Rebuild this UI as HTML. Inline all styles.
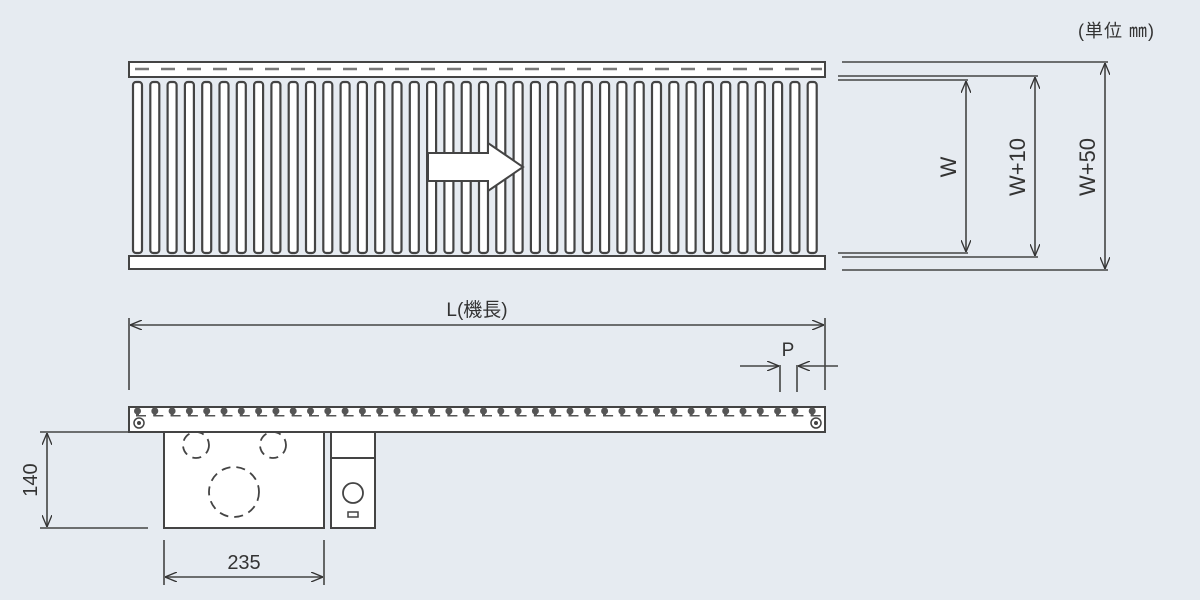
<!DOCTYPE html>
<html><head><style>body{margin:0;background:#e6ebf1}svg{display:block}</style></head><body>
<svg width="1200" height="600" viewBox="0 0 1200 600" xmlns="http://www.w3.org/2000/svg" font-family="Liberation Sans, Noto Sans CJK JP, sans-serif">
<defs>
<marker id="a" viewBox="0 0 12 10" refX="12" refY="5" markerWidth="12" markerHeight="10" orient="auto-start-reverse" markerUnits="userSpaceOnUse"><path d="M0,0 L12,5 L0,10" fill="none" stroke="#333" stroke-width="1.3"/></marker>
</defs>
<rect width="1200" height="600" fill="#e6ebf1"/>
<text x="1078" y="37" font-size="18" fill="#333" letter-spacing="1">(単位 ㎜)</text>
<rect x="129" y="62" width="696" height="15" fill="#fff" stroke="#444" stroke-width="2"/>
<line x1="135" y1="69" x2="822" y2="69" stroke="#777" stroke-width="2.5" stroke-dasharray="14,12"/>
<rect x="129" y="256" width="696" height="13" fill="#fff" stroke="#444" stroke-width="2"/>
<g id="rollers" fill="#fff" stroke="#444" stroke-width="2.2"></g>
<path d="M428,153 L488,153 L488,143 L523,167 L488,191 L488,181 L428,181 Z" fill="#fff" stroke="#444" stroke-width="2"/>
<g stroke="#444" stroke-width="1.6">
<line x1="842" y1="62" x2="1108" y2="62"/><line x1="838" y1="76" x2="1038" y2="76"/><line x1="838" y1="80" x2="968" y2="80"/>
<line x1="838" y1="253" x2="968" y2="253"/><line x1="842" y1="257" x2="1038" y2="257"/><line x1="842" y1="270" x2="1108" y2="270"/>
<line x1="966" y1="81" x2="966" y2="252" marker-start="url(#a)" marker-end="url(#a)"/>
<line x1="1035" y1="77" x2="1035" y2="256" marker-start="url(#a)" marker-end="url(#a)"/>
<line x1="1105" y1="63" x2="1105" y2="269" marker-start="url(#a)" marker-end="url(#a)"/>
</g>
<g font-size="22" fill="#333" text-anchor="middle">
<text transform="translate(956,167) rotate(-90)">W</text>
<text transform="translate(1025,167) rotate(-90)">W+10</text>
<text transform="translate(1095,167) rotate(-90)">W+50</text>
</g>
<g stroke="#444" stroke-width="1.6">
<line x1="129" y1="318" x2="129" y2="390"/><line x1="825" y1="318" x2="825" y2="390"/>
<line x1="130" y1="325" x2="824" y2="325" marker-start="url(#a)" marker-end="url(#a)"/>
<line x1="780" y1="365" x2="780" y2="392"/><line x1="797" y1="365" x2="797" y2="392"/>
<line x1="740" y1="366" x2="779" y2="366" marker-end="url(#a)"/>
<line x1="838" y1="366" x2="798" y2="366" marker-end="url(#a)"/>
</g>
<text x="477" y="316" font-size="19" fill="#333" text-anchor="middle">L(機長)</text>
<text x="788" y="356" font-size="19" fill="#333" text-anchor="middle">P</text>
<rect x="129" y="407" width="696" height="25" fill="#fff" stroke="#444" stroke-width="2"/>
<g id="side" fill="#555"></g>
<circle cx="139" cy="423" r="5" fill="none" stroke="#444" stroke-width="1.5"/><circle cx="139" cy="423" r="2" fill="#444"/>
<circle cx="816" cy="423" r="5" fill="none" stroke="#444" stroke-width="1.5"/><circle cx="816" cy="423" r="2" fill="#444"/>
<rect x="164" y="432" width="160" height="96" fill="#fff" stroke="#444" stroke-width="2"/>
<rect x="331" y="432" width="44" height="96" fill="#fff" stroke="#444" stroke-width="2"/>
<line x1="331" y1="458" x2="375" y2="458" stroke="#444" stroke-width="2"/>
<circle cx="353" cy="493" r="10" fill="none" stroke="#444" stroke-width="1.8"/>
<rect x="348" y="512" width="10" height="5" fill="none" stroke="#444" stroke-width="1.5"/>
<g fill="none" stroke="#444" stroke-width="1.8" stroke-dasharray="9,6">
<circle cx="196" cy="445" r="13"/><circle cx="273" cy="445" r="13"/><circle cx="234" cy="492" r="25"/>
</g>
<g stroke="#444" stroke-width="1.6">
<line x1="40" y1="432" x2="164" y2="432"/><line x1="40" y1="528" x2="148" y2="528"/>
<line x1="47" y1="433" x2="47" y2="527" marker-start="url(#a)" marker-end="url(#a)"/>
<line x1="164" y1="540" x2="164" y2="585"/><line x1="324" y1="540" x2="324" y2="585"/>
<line x1="165" y1="577" x2="323" y2="577" marker-start="url(#a)" marker-end="url(#a)"/>
</g>
<text transform="translate(37,480) rotate(-90)" font-size="20" fill="#333" text-anchor="middle">140</text>
<text x="244" y="569" font-size="20" fill="#333" text-anchor="middle">235</text>
</svg>
<script>
var ns="http://www.w3.org/2000/svg",r=document.getElementById("rollers"),s=document.getElementById("side");
for(var i=0;i<40;i++){var x=133+i*17.3;
var e=document.createElementNS(ns,"rect");e.setAttribute("x",x);e.setAttribute("y",82);e.setAttribute("width",9);e.setAttribute("height",171);e.setAttribute("rx",3);r.appendChild(e);
var c=document.createElementNS(ns,"circle");c.setAttribute("cx",x+4.5);c.setAttribute("cy",411);c.setAttribute("r",3.5);s.appendChild(c);
var l=document.createElementNS(ns,"rect");l.setAttribute("x",x+3);l.setAttribute("y",411);l.setAttribute("width",3);l.setAttribute("height",5);s.appendChild(l);
var b=document.createElementNS(ns,"rect");b.setAttribute("x",x+3);b.setAttribute("y",415);b.setAttribute("width",10);b.setAttribute("height",1.5);s.appendChild(b);}
</script>
</body></html>
